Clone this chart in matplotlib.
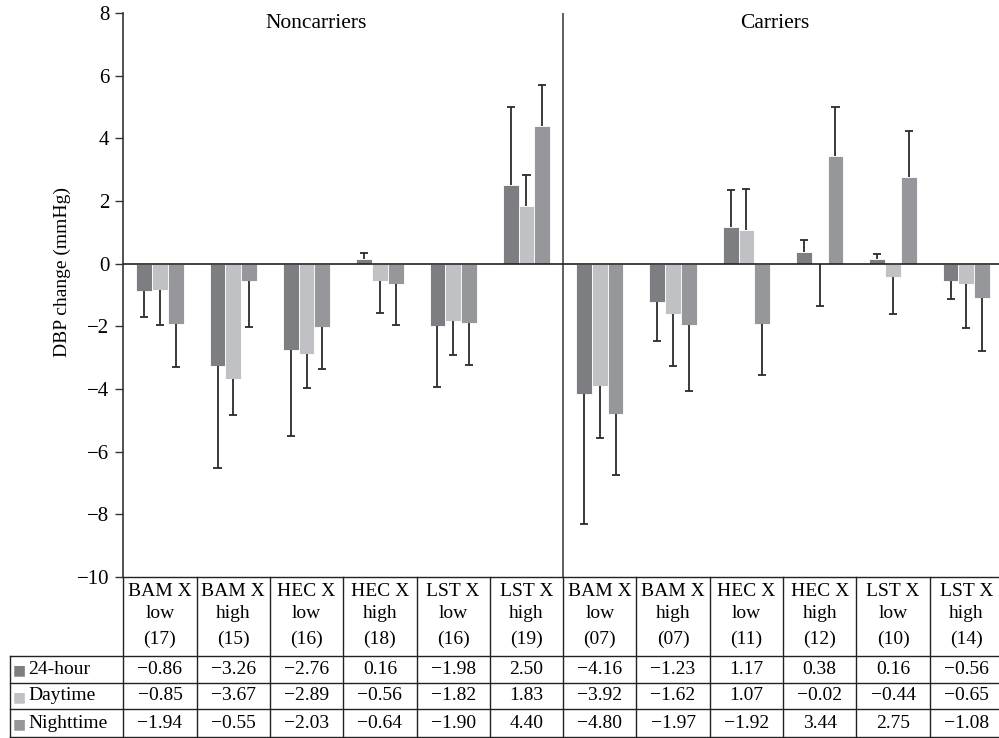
import matplotlib
matplotlib.use("Agg")
import matplotlib.pyplot as plt
import numpy as np

plt.rcParams['font.family'] = ['Liberation Serif', 'DejaVu Serif']
plt.rcParams['axes.unicode_minus'] = True

# ---------------- data ----------------
genes = ["BAM X", "BAM X", "HEC X", "HEC X", "LST X", "LST X",
         "BAM X", "BAM X", "HEC X", "HEC X", "LST X", "LST X"]
levels = ["low", "high", "low", "high", "low", "high",
          "low", "high", "low", "high", "low", "high"]
counts = ["(17)", "(15)", "(16)", "(18)", "(16)", "(19)",
          "(07)", "(07)", "(11)", "(12)", "(10)", "(14)"]
groups = ["Noncarriers", "Carriers"]
series = ["24-hour", "Daytime", "Nighttime"]

h24 = [-0.86, -3.26, -2.76, 0.16, -1.98, 2.50, -4.16, -1.23, 1.17, 0.38, 0.16, -0.56]
day = [-0.85, -3.67, -2.89, -0.56, -1.82, 1.83, -3.92, -1.62, 1.07, -0.02, -0.44, -0.65]
night = [-1.94, -0.55, -2.03, -0.64, -1.90, 4.40, -4.80, -1.97, -1.92, 3.44, 2.75, -1.08]

err24 = [0.85, 3.25, 2.74, 0.17, 1.97, 2.51, 4.15, 1.23, 1.18, 0.38, 0.16, 0.56]
errday = [1.10, 1.16, 1.09, 1.02, 1.08, 1.01, 1.65, 1.65, 1.32, 1.32, 1.17, 1.39]
errnight = [1.37, 1.48, 1.32, 1.32, 1.32, 1.30, 1.93, 2.08, 1.63, 1.55, 1.49, 1.70]

colors = ["#7d7e82", "#c0c1c4", "#96979a"]

# ---------------- figure ----------------
W, H = 999, 738
fig = plt.figure(figsize=(W / 100, H / 100), dpi=100)
ax_l, ax_r, ax_t, ax_b = 123.3, 1003.0, 13.0, 577.0
ax = fig.add_axes([ax_l / W, (H - ax_b) / H, (ax_r - ax_l) / W, (ax_b - ax_t) / H])

n = len(h24)
x = np.arange(n)
bw = 0.215
vals = [h24, day, night]
errs = [err24, errday, errnight]
for k, (v, e, c) in enumerate(zip(vals, errs, colors)):
    xs = x + (k - 1) * bw
    ax.bar(xs, v, width=bw, color=c, edgecolor="white", linewidth=0.6, zorder=2)
    v = np.array(v)
    e = np.array(e)
    ends = v + np.sign(np.where(v == 0, 1, v)) * e
    ax.vlines(xs, v, ends, color="#2b2b2b", lw=1.3, zorder=3)
    ax.hlines(ends, xs - 0.055, xs + 0.055, color="#2b2b2b", lw=1.3, zorder=3)

ax.set_xlim(-0.5, n - 0.5)
ax.set_ylim(-10, 8)
ax.set_yticks(np.arange(-10, 9, 2))
ax.tick_params(axis='y', direction='out', length=6, width=1, labelsize=15, pad=4, color="#333333")
ax.set_xticks([])
for s in ["top", "right", "bottom"]:
    ax.spines[s].set_visible(False)
ax.spines["left"].set_color("#333333")
ax.spines["left"].set_linewidth(1.2)
ax.axhline(0, color="#222222", lw=1.2, zorder=4)
ax.axvline(5.5, color="#444444", lw=1.2, zorder=1)

ax.text(2.13, 7.65, groups[0], ha="center", va="center", fontsize=15.5)
ax.text(8.39, 7.65, groups[1], ha="center", va="center", fontsize=15.5)

fig.text(62 / W, 1 - 272 / H, "DBP change (mmHg)", rotation=90, ha="center", va="center", fontsize=14)

# ---------------- table below ----------------
trans = ax.get_xaxis_transform()


def ay(px):
    return (ax_b - px) / (ax_b - ax_t)


lc = "#222222"
lw = 1.0
row_lines = [655.5, 682.5, 709.0, 736.5]
ax.plot([-0.5, n - 0.5], [ay(577), ay(577)], transform=trans, color=lc, lw=lw, clip_on=False)
x_left_data = -0.5 - (ax_l - 10) / ((ax_r - ax_l) / n)
for yp in row_lines:
    ax.plot([x_left_data, n - 0.5], [ay(yp), ay(yp)], transform=trans, color=lc, lw=lw, clip_on=False)
for b in np.arange(-0.5, n, 1.0):
    ax.plot([b, b], [ay(577), ay(736.5)], transform=trans, color=lc, lw=lw, clip_on=False)
ax.plot([x_left_data, x_left_data], [ay(655.5), ay(736.5)], transform=trans, color=lc, lw=lw, clip_on=False)

fs = 14
for i in range(n):
    ax.text(i, ay(591), genes[i], transform=trans, ha="center", va="center", fontsize=fs, clip_on=False)
    ax.text(i, ay(614), levels[i], transform=trans, ha="center", va="center", fontsize=fs, clip_on=False)
    ax.text(i, ay(639), counts[i], transform=trans, ha="center", va="center", fontsize=fs, clip_on=False)

row_y = [669, 696, 723]
for r, (name, v, c) in enumerate(zip(series, vals, colors)):
    ax.text(x_left_data + 0.04, ay(row_y[r] + 1), "\u25a0", transform=trans, ha="left", va="center",
            fontsize=10, color=c, family=["DejaVu Sans"], clip_on=False)
    ax.text(x_left_data + 0.25, ay(row_y[r]), name, transform=trans, ha="left", va="center",
            fontsize=fs, clip_on=False)
    for i in range(n):
        ax.text(i, ay(row_y[r]), f"{v[i]:.2f}".replace("-", "\u2212"), transform=trans,
                ha="center", va="center", fontsize=fs, clip_on=False)

fig.savefig("out.png", dpi=100)
